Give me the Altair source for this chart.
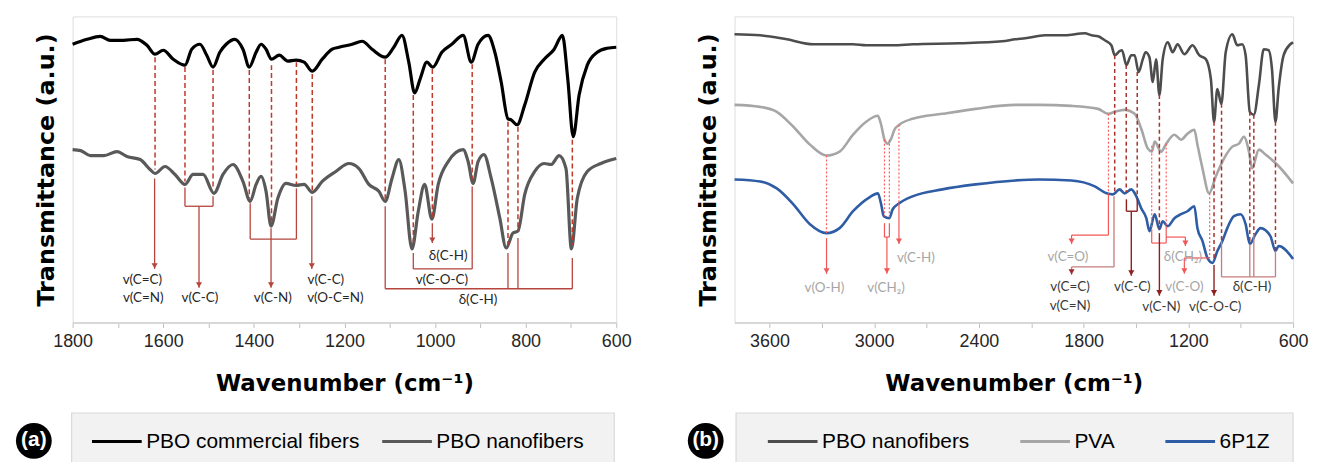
import altair as alt
import pandas as pd

# ---------------- Panel (a) spectra: (wavenumber cm-1, transmittance a.u.) ----------------
A_COMMERCIAL = [(1800,280),(1768,285),(1739,288),(1717,284),(1688,284),(1658,285),(1636,279),(1618,270),
    (1600,274),(1578,265),(1552,259),(1537,275),(1519,280),(1504,269),(1490,257),(1475,272),(1461,280),
    (1442,285),(1424,275),(1410,257),(1395,272),(1384,280),(1373,275),(1361,265),(1344,269),(1325,263),
    (1307,264),(1289,262),(1271,253),(1249,265),(1227,275),(1212,277),(1183,280),(1161,283),(1139,275),
    (1110,267),(1091,277),(1073,289),(1058,262),(1045,231),(1033,245),(1018,262),(1005,257),(985,272),
    (963,280),(938,289),(920,262),(905,280),(883,289),(868,272),(854,242),(839,205),(832,204),(819,199),
    (802,219),(780,252),(759,265),(737,275),(719,289),(707,245),(695,187),(682,229),(664,259),(642,272),
    (620,276),(600,277)]
A_NANO = [(1800,174),(1782,173),(1761,168),(1731,168),(1702,172),(1680,167),(1651,164),(1629,154),(1618,150),
    (1596,157),(1574,149),(1552,139),(1534,149),(1512,149),(1488,130),(1468,149),(1446,159),(1424,142),
    (1408,122),(1395,139),(1384,147),(1373,132),(1362,97),(1347,125),(1329,140),(1307,138),(1289,139),
    (1271,131),(1249,142),(1219,152),(1190,160),(1168,155),(1146,139),(1124,132),(1110,122),(1095,145),
    (1080,164),(1066,132),(1051,74),(1037,112),(1023,139),(1007,104),(993,139),(971,162),(938,174),
    (927,162),(916,140),(905,162),(892,169),(876,145),(857,105),(843,75),(828,90),(817,92),(802,129),
    (780,152),(759,160),(744,159),(726,168),(711,155),(699,74),(686,125),(664,152),(634,160),(600,165)]
A_SERIES = ["PBO commercial fibers", "PBO nanofibers"]
A_COLORS = ["#000000", "#595959"]

# dashed guide lines: (wavenumber, from, to)
A_DASHED = [(1618,267,154),(1552,257,142),(1490,254,134),(1410,254,125),(1361,259,102),(1306,262,139),
    (1271,250,132),(1110,265,124),(1048,229,78),(1006,255,105),(918,260,144),(839,202,78),(817,197,92),
    (697,184,78)]
# solid guide segments: (wn1, t1, wn2, t2)
A_SEGMENTS = [(1619,145,1619,54),
    (1552,136,1552,117),(1490,127,1490,117),(1552,117,1490,117),(1521,117,1521,35),
    (1408,120,1408,84),(1306,135,1306,84),(1408,84,1306,84),(1362,95,1362,35),
    (1272,127,1272,54),
    (1110,117,1110,34),(839,70,839,34),(817,85,817,34),(697,65,697,34),(1110,34,697,34),
    (1048,70,1048,54),(918,137,918,54),(1048,54,918,54),
    (1006,100,1006,80)]
A_ARROWS = [(1619,54),(1521,35),(1362,35),(1272,54),(1006,80)]
A_LABELS = [(1646,43,"v(C=C)"),(1644,25,"v(C=N)"),(1519,25,"v(C-C)"),(1358,25,"v(C-N)"),
    (1241,43,"v(C-C)"),(1220,25,"v(O-C=N)"),(905,23,"δ(C-H)"),(985,43,"v(C-O-C)"),(971,67,"δ(C-H)")]

# ---------------- Panel (b) spectra ----------------
B_PBO = [(3800,290),(3653,289),(3501,285),(3349,280),(3121,280),(3046,279),(2893,279),(2780,280),(2514,281),
    (2267,283),(2191,285),(2135,286),(2021,289),(1907,289),(1793,291),(1755,289),(1717,288),(1679,284),
    (1641,279),(1622,269),(1594,273),(1580,274),(1555,259),(1527,269),(1508,269),(1485,252),(1461,265),
    (1445,272),(1423,267),(1404,242),(1385,265),(1366,229),(1347,265),(1318,282),(1290,272),(1262,280),
    (1223,270),(1176,279),(1138,269),(1100,265),(1071,245),(1053,202),(1034,235),(1011,220),(986,272),
    (948,290),(920,279),(892,280),(872,269),(848,212),(825,209),(796,239),(768,275),(740,274),(721,255),
    (701,202),(683,235),(654,269),(616,280),(600,282)]
B_PVA = [(3800,219),(3653,217),(3558,212),(3463,197),(3368,179),(3273,168),(3198,172),(3121,189),(3046,202),
    (2979,208),(2960,199),(2941,184),(2922,180),(2903,185),(2884,194),(2856,199),(2780,205),(2609,210),
    (2419,215),(2191,219),(2059,219),(1869,218),(1717,215),(1660,210),(1622,212),(1565,214),(1508,210),
    (1470,195),(1432,175),(1409,172),(1393,182),(1356,172),(1327,180),(1280,189),(1242,184),(1205,190),
    (1166,194),(1148,179),(1119,155),(1081,130),(1043,147),(996,165),(948,177),(910,180),(882,187),
    (853,172),(835,155),(796,174),(758,169),(692,159),(600,140)]
B_6P1Z = [(3800,144),(3653,142),(3558,135),(3463,119),(3368,99),(3273,90),(3198,95),(3121,112),(3027,126),
    (2979,130),(2960,119),(2945,107),(2913,105),(2894,114),(2856,120),(2780,127),(2609,134),(2419,139),
    (2191,143),(2059,144),(1869,143),(1736,137),(1669,130),(1632,129),(1594,134),(1565,130),(1527,134),
    (1498,127),(1470,115),(1441,105),(1423,92),(1393,109),(1366,94),(1347,102),(1318,97),(1280,105),
    (1242,109),(1205,112),(1166,117),(1148,95),(1119,82),(1091,65),(1062,60),(1034,72),(1005,82),
    (977,95),(939,107),(901,109),(872,99),(848,79),(815,89),(787,95),(730,87),(701,72),(683,77),(600,64)]
B_SERIES = ["PBO nanofibers", "PVA", "6P1Z"]
B_COLORS = ["#4d4d4d", "#a6a6a6", "#2e5ca5"]

B_DASHED_PBO = [(1622,269,129),(1556,259,131),(1493,252,125),(1366,229,94),(1053,202,62),(1010,220,82),
    (848,212,79),(825,209,89),(701,202,72)]
B_DOTTED_PVA = [(3273,168,90),(2941,184,107),(2913,184,105),(2858,199,120),(1658,210,130),(1410,178,94),
    (1327,180,97),(1078,130,65)]
B_SEG_PVA = [(3273,85,3273,49),
    (2941,100,2941,86),(2913,100,2913,86),(2941,86,2913,86),(2927,86,2927,49),
    (2858,120,2858,79),
    (1658,130,1658,88),(1658,88,1869,88),(1869,88,1869,79),
    (1410,94,1410,80),(1327,97,1327,80),(1410,80,1327,80),(1327,86,1217,86),(1217,86,1217,77),
    (1078,65,1223,65),(1223,65,1223,49)]
B_ARROWS_PVA = [(3273,49),(2927,49),(2858,79),(1869,79),(1217,77),(1223,49)]
B_SEG_ROSY = [(1626,127,1626,56),(1626,56,1869,56),(1869,56,1869,48),
    (1010,82,1010,46),(848,79,848,46),(825,89,825,46),(701,72,701,46),(1010,46,701,46)]
B_ARROWS_ROSY = [(1869,48)]
B_SEG_DARK = [(1555,124,1555,112),(1493,124,1493,112),(1555,112,1493,112),(1527,112,1527,47),
    (1366,90,1366,27),(1053,58,1053,27)]
B_ARROWS_DARK = [(1527,47),(1366,27),(1053,27)]
B_LABELS_PVA = [(3285,35,"v(O-H)"),(2932,35,"v(CH₂)"),(2761,65,"v(C-H)"),(1890,66,"v(C=O)"),
    (1231,66,"δ(CH₂)"),(1223,36,"v(C-O)")]
B_LABELS_PBO = [(1878,36,"v(C=C)"),(1878,17,"v(C=N)"),(1521,36,"v(C-C)"),(1355,16,"v(C-N)"),
    (1046,16,"v(C-O-C)"),(835,36,"δ(C-H)")]

H = 308
LBL_FONT = "Lato"
LBL_SIZE = 13.5


def curves_df(series_list, names):
    rows = []
    for pts_, name in zip(series_list, names):
        for w, t in pts_:
            rows.append({"wn": w, "t": t, "series": name})
    return pd.DataFrame(rows)


def vlines(items):
    return pd.DataFrame([{"wn": w, "t": a, "wn2": w, "t2": b} for w, a, b in items])


def segs(items):
    return pd.DataFrame([{"wn": a, "t": b, "wn2": c, "t2": d} for a, b, c, d in items])


def pts(items):
    return pd.DataFrame([{"wn": w, "t": t} for w, t in items])


def labs(items):
    return pd.DataFrame([{"wn": w, "t": t, "txt": s} for w, t, s in items])


def panel(xscale, xaxis, width, curve_layer, extra_layers, badge_text, badge_x, box):
    base_y = alt.Y("t:Q", scale=alt.Scale(domain=[0, H], nice=False, zero=False),
                   axis=alt.Axis(title="Transmittance (a.u.)", labels=False, ticks=False, domain=False,
                                 grid=False, titleFont="DejaVu Sans", titleFontWeight="bold",
                                 titleFontSize=24, titleColor="#000000", titlePadding=14))
    # legend background box (decoration)
    bx0, bx1 = box
    bg = alt.Chart(pd.DataFrame({"k": [0]})).mark_rect(
        fill="#f2f2f2", stroke="#d9d9d9", strokeWidth=1.2).encode(
        x=alt.value(bx0), x2=alt.value(bx1), y=alt.value(399), y2=alt.value(475))
    layers = []
    for kind, data, props in extra_layers:
        if kind == "rule":
            layers.append(alt.Chart(data).mark_rule(**props).encode(
                x=alt.X("wn:Q", scale=xscale), x2="wn2:Q", y=alt.Y("t:Q"), y2="t2:Q"))
        elif kind == "arrow":
            layers.append(alt.Chart(data).mark_point(shape="triangle-down", filled=True, opacity=1,
                                                     size=38, yOffset=-3, **props).encode(
                x=alt.X("wn:Q", scale=xscale), y=alt.Y("t:Q")))
        elif kind == "text":
            layers.append(alt.Chart(data).mark_text(font=LBL_FONT, fontSize=LBL_SIZE, **props).encode(
                x=alt.X("wn:Q", scale=xscale), y=alt.Y("t:Q"), text="txt:N"))
    main = curve_layer.encode(x=alt.X("wn:Q", scale=xscale, axis=xaxis), y=base_y)
    bdf = pd.DataFrame({"b": [badge_text]})
    badge = alt.Chart(bdf).mark_point(shape="circle", filled=True, color="#000000", opacity=1,
                                      size=1300).encode(x=alt.value(badge_x), y=alt.value(427))
    badge_t = alt.Chart(bdf).mark_text(color="#ffffff", font="Liberation Sans", fontWeight="bold",
                                       fontSize=21, baseline="middle").encode(
        x=alt.value(badge_x), y=alt.value(426), text="b:N")
    return alt.layer(bg, main, *layers, badge, badge_t).properties(width=width, height=H)


def make_axis(values, step):
    return alt.Axis(values=values, labelExpr=f"datum.value % {step} == 0 ? format(datum.value, 'd') : ''",
                    title="Wavenumber (cm⁻¹)", titleFont="DejaVu Sans", titleFontWeight="bold",
                    titleFontSize=23, titleColor="#000000", titlePadding=22,
                    labelFont="Liberation Sans", labelFontSize=18, labelColor="#262626", labelPadding=5,
                    tickSize=5, tickColor="#bfbfbf", domainColor="#d0d0d0", domainWidth=1.5,
                    grid=False, labelOverlap=False, labelFlush=False)


def legend(x, col_pad):
    return alt.Legend(orient="none", legendX=x, legendY=401, direction="horizontal", title=None,
                      padding=0, symbolType="stroke",
                      symbolSize=2500, symbolStrokeWidth=3, labelFont="Liberation Sans",
                      labelFontSize=21, labelColor="#000000", labelOffset=3, columnPadding=col_pad,
                      labelLimit=400)


# ---------- panel (a) ----------
a_xscale = alt.Scale(domain=[600, 1800], reverse=True, nice=False, zero=False)
a_curves = alt.Chart(curves_df([A_COMMERCIAL, A_NANO], A_SERIES)).mark_line(
    strokeWidth=3.2, interpolate="monotone").encode(
    color=alt.Color("series:N", scale=alt.Scale(domain=A_SERIES, range=A_COLORS), legend=legend(18, 16)),
    order=alt.Order("series:N"))
a_red_dash = "#c0392b"
a_red_solid = "#b5453d"
a_extra = [
    ("rule", vlines(A_DASHED), dict(color=a_red_dash, strokeWidth=1.5, strokeDash=[5, 3])),
    ("rule", segs(A_SEGMENTS), dict(color=a_red_solid, strokeWidth=1.3)),
    ("arrow", pts(A_ARROWS), dict(color=a_red_solid)),
    ("text", labs(A_LABELS), dict(color="#262626")),
]
panel_a = panel(a_xscale, make_axis(list(range(600, 1801, 100)), 200), 547,
                a_curves, a_extra, "(a)", -39, (-1, 545))

# ---------- panel (b) ----------
b_xscale = alt.Scale(domain=[600, 3800], reverse=True, nice=False, zero=False)
b_curves = alt.Chart(curves_df([B_PBO, B_PVA, B_6P1Z], B_SERIES)).mark_line(
    strokeWidth=2.6, interpolate="monotone").encode(
    color=alt.Color("series:N", scale=alt.Scale(domain=B_SERIES, range=B_COLORS), legend=legend(32, 44)))
b_extra = [
    ("rule", vlines(B_DASHED_PBO), dict(color="#a8322d", strokeWidth=1.5, strokeDash=[4, 3])),
    ("rule", vlines(B_DOTTED_PVA), dict(color="#ff5a5a", strokeWidth=1.2, strokeDash=[2, 2])),
    ("rule", segs(B_SEG_PVA), dict(color="#f25757", strokeWidth=1.2)),
    ("arrow", pts(B_ARROWS_PVA), dict(color="#f25757")),
    ("rule", segs(B_SEG_ROSY), dict(color="#c47c7c", strokeWidth=1.3)),
    ("arrow", pts(B_ARROWS_ROSY), dict(color="#9b2a2a")),
    ("rule", segs(B_SEG_DARK), dict(color="#8e2020", strokeWidth=1.4)),
    ("arrow", pts(B_ARROWS_DARK), dict(color="#8e2020")),
    ("text", labs(B_LABELS_PVA), dict(color="#a6a6a6")),
    ("text", labs(B_LABELS_PBO), dict(color="#3a3a3a")),
]
panel_b = panel(b_xscale, make_axis(list(range(600, 3801, 300)), 600), 562,
                b_curves, b_extra, "(b)", -29, (1.5, 562))

chart = alt.hconcat(panel_a, panel_b, spacing=55).resolve_scale(
    color="independent", x="independent", y="independent").properties(
    padding={"left": 7, "top": 6, "right": 0, "bottom": 0}).configure_view(
    stroke="#d9d9d9", strokeWidth=1.5).configure(background="#ffffff")

chart.save("out.html", embed_options={"renderer": "svg", "actions": False})
